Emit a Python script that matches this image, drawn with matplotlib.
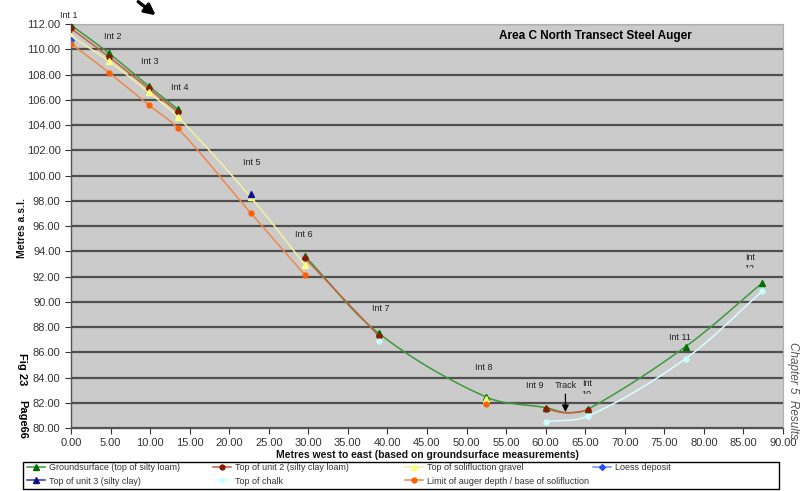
import numpy as np
import matplotlib
matplotlib.use("Agg")
import matplotlib.pyplot as plt
from matplotlib.lines import Line2D
from matplotlib.patches import Rectangle

plt.rcParams["font.family"] = ["Liberation Sans Narrow", "Liberation Sans", "DejaVu Sans"]

nan = np.nan

# distance along transect (m) for each auger hole, plus the track low point
dist = [0.0, 4.8, 9.8, 13.5, 22.7, 29.6, 38.9, 52.5, 60.1, 62.6, 65.4, 77.7, 87.4]
int_labels = ["Int 1", "Int 2", "Int 3", "Int 4", "Int 5", "Int 6", "Int 7",
              "Int 8", "Int 9", "Track", "Int\n10", "Int 11", "Int\n12"]

ground = [111.92, 109.68, 107.1, 105.25, nan, 93.6, 87.5, 82.45, 81.6, 81.22, 81.5, 86.45, 91.5]
unit2 = [111.65, 109.4, 106.9, 105.05, nan, 93.45, 87.3, nan, 81.5, 81.2, 81.4, nan, nan]
gravel = [111.05, 109.05, 106.6, 104.65, 98.3, 92.9, nan, 82.3, nan, nan, nan, nan, nan]
loess = [110.75, nan, nan, nan, nan, nan, nan, nan, nan, nan, nan, nan, nan]
unit3 = [nan, nan, nan, nan, 98.5, nan, nan, nan, nan, nan, nan, nan, nan]
chalk = [nan, nan, nan, nan, nan, nan, 86.9, nan, 80.5, nan, 80.95, 85.5, 90.85]
limit = [110.45, 108.15, 105.6, 103.75, 97.05, 92.1, nan, 81.9, nan, nan, nan, nan, nan]

# label centres (x, y) for the hole labels
label_x = [-0.25, 5.3, 9.9, 13.8, 22.9, 29.4, 39.1, 52.2, 58.6, 62.5, 65.2, 77.0, 85.8]
label_y = [112.7, 111.0, 109.0, 107.0, 101.0, 95.3, 89.5, 84.8, 83.35, 83.35, 83.85, 87.2, 93.85]

series = [
    ("Groundsurface (top of silty loam)", ground, "#3c9a3c", "#007000", "^", 4),
    ("Top of unit 2 (silty clay loam)", unit2, "#c8603c", "#8b1a00", "o", 3.5),
    ("Top of solifluction gravel", gravel, "#f4f0a0", "#ffff80", "^", 4),
    ("Loess deposit", loess, "#6f8cff", "#2050ff", "D", 3),
    ("Top of unit 3 (silty clay)", unit3, "#3030a0", "#101090", "^", 4),
    ("Top of chalk", chalk, "#d8ffff", "#c8ffff", "o", 3.5),
    ("Limit of auger depth / base of solifluction", limit, "#f08848", "#ff6000", "o", 3.5),
]


def smooth(px, py, n=24):
    # smoothed line (bezier through neighbours, chord-length weighted)
    p = np.column_stack([px, py])
    if len(p) < 3:
        return p[:, 0], p[:, 1]
    ext = np.vstack([p[0], p, p[-1]])
    scale = np.array([1.0, 1.6])
    t = np.linspace(0, 1, n)[:, None]
    out = []
    for i in range(1, len(ext) - 2):
        p0, p1, p2, p3 = ext[i - 1], ext[i], ext[i + 1], ext[i + 2]
        d01 = np.linalg.norm((p1 - p0) * scale)
        d12 = np.linalg.norm((p2 - p1) * scale)
        d23 = np.linalg.norm((p3 - p2) * scale)
        c1 = p1 + (p2 - p0) * d12 / (3 * (d01 + d12))
        c2 = p2 - (p3 - p1) * d12 / (3 * (d12 + d23))
        seg = (1 - t) ** 3 * p1 + 3 * (1 - t) ** 2 * t * c1 + 3 * (1 - t) * t ** 2 * c2 + t ** 3 * p2
        out.append(seg)
    out = np.vstack(out)
    return out[:, 0], out[:, 1]


fig = plt.figure(figsize=(8.02, 4.91), dpi=100)
ax = fig.add_axes([0.0885, 0.1283, 0.8878, 0.8228])
ax.set_facecolor("#cbcbcb")

x = np.array(dist)
for name, vals, lc, mc, mk, ms in series:
    y = np.array(vals, dtype=float)
    # split into runs; a missing track value does not break a line
    runs, cur = [], []
    for i in range(len(y)):
        if not np.isnan(y[i]):
            cur.append(i)
        elif int_labels[i] != "Track" and cur:
            runs.append(cur)
            cur = []
    if cur:
        runs.append(cur)
    for r in runs:
        if len(r) > 1:
            sx, sy = smooth(x[r], y[r])
            ax.plot(sx, sy, color=lc, lw=1.1, zorder=3)
    idx = [i for i in range(len(y)) if not np.isnan(y[i]) and int_labels[i] != "Track"]
    ax.plot(x[idx], y[idx], ls="none", marker=mk, ms=ms, color=mc,
            markeredgecolor=mc, zorder=4)

ax.set_xlim(0, 90)
ax.set_ylim(80, 112)
ax.set_xticks(np.arange(0, 90.1, 5))
ax.set_yticks(np.arange(80, 112.1, 2))
ax.xaxis.set_major_formatter(matplotlib.ticker.FormatStrFormatter("%.2f"))
ax.yaxis.set_major_formatter(matplotlib.ticker.FormatStrFormatter("%.2f"))
ax.tick_params(axis="both", labelsize=8, colors="#333333", length=4, width=0.8)
ax.yaxis.grid(True, color="#505050", lw=1.6)
ax.set_axisbelow(True)
for s in ["top", "right"]:
    ax.spines[s].set_color("#b0b0b0")
    ax.spines[s].set_linewidth(0.8)
for s in ["left", "bottom"]:
    ax.spines[s].set_color("#555555")
    ax.spines[s].set_linewidth(1.0)

ax.set_xlabel("Metres west to east (based on groundsurface measurements)",
              fontsize=7.5, fontweight="bold", labelpad=1, color="#111111")
fig.text(22 / 802, 1 - 228 / 491, "Metres a.s.l.", rotation=90, fontsize=7.5,
         fontweight="bold", color="#111111", ha="center", va="center")

ax.text(0.736, 0.970, "Area C North Transect Steel Auger", transform=ax.transAxes,
        ha="center", va="center", fontsize=8.5, fontweight="bold",
        family=["Liberation Sans", "DejaVu Sans"])

# hole labels (two-line ones are cut off below, as in the original)
for lx, ly, lab in zip(label_x, label_y, int_labels):
    t = ax.text(lx, ly, lab, fontsize=6.5, color="#222222", ha="center", va="center",
                clip_on=False, linespacing=1.3)
    if "\n" in lab:
        t.set_va("top")
        clip = Rectangle((lx - 3, ly - 1.15), 6, 2.5, transform=ax.transData)
        t.set_clip_path(clip)
        t.set_clip_on(True)

# track arrow
ax.annotate("", xy=(62.5, 81.05), xytext=(62.5, 82.9),
            arrowprops=dict(arrowstyle="-|>", color="black", lw=0.9, mutation_scale=10))

# arrow above the chart
fig.patches.append(matplotlib.patches.FancyArrowPatch(
    (136 / 802, 1.0), (158 / 802, 1 - 17 / 491), transform=fig.transFigure,
    arrowstyle="-|>", mutation_scale=16, lw=2.4, color="black"))

fig.text(22 / 802, 1 - 369 / 491, "Fig 23", rotation=-90, fontsize=8, fontweight="bold",
         ha="center", va="center")
fig.text(22 / 802, 1 - 419 / 491, "Page66", rotation=-90, fontsize=8, fontweight="bold",
         ha="center", va="center")
fig.text(793 / 802, 1 - 390 / 491, "Chapter 5  Results", rotation=-90, fontsize=8.5,
         style="italic", color="#555555", ha="center", va="center")

# legend: one frame, four columns placed like the original
handles = []
for name, vals, lc, mc, mk, ms in series:
    handles.append(Line2D([], [], color=lc, lw=1.1, marker=mk, ms=ms,
                          markerfacecolor=mc, markeredgecolor=mc, label=name))
fig.patches.append(Rectangle((23 / 802, 2 / 491), 756 / 802, 27 / 491,
                             transform=fig.transFigure, facecolor="white",
                             edgecolor="black", lw=1.0))
columns = [[0, 4], [1, 5], [2, 6], [3]]
col_x = [27, 213, 405, 593]
for cx, col in zip(col_x, columns):
    lg = fig.legend([handles[i] for i in col], [handles[i].get_label() for i in col],
                    loc="upper left", bbox_to_anchor=(cx / 802, 1 - 463 / 491),
                    fontsize=6.5, frameon=False, handlelength=2.0, handletextpad=0.45,
                    borderpad=0.0, labelspacing=0.5, borderaxespad=0,
                    labelcolor="#333333")

fig.savefig("out.png", dpi=100)
